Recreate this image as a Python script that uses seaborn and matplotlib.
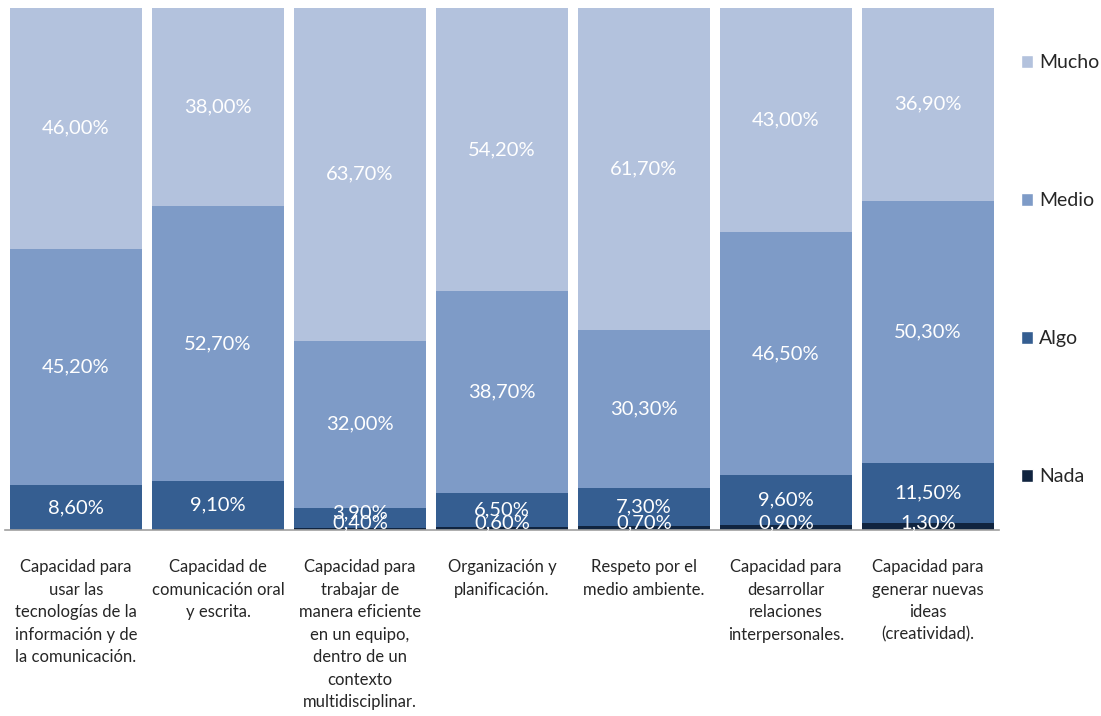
import numpy as np
import pandas as pd
import matplotlib
matplotlib.use("Agg")
import matplotlib.pyplot as plt
import seaborn as sns
from matplotlib.patches import Patch

categorias = [
    "Capacidad para\nusar las\ntecnologías de la\ninformación y de\nla comunicación.",
    "Capacidad de\ncomunicación oral\ny escrita.",
    "Capacidad para\ntrabajar de\nmanera eficiente\nen un equipo,\ndentro de un\ncontexto\nmultidisciplinar.",
    "Organización y\nplanificación.",
    "Respeto por el\nmedio ambiente.",
    "Capacidad para\ndesarrollar\nrelaciones\ninterpersonales.",
    "Capacidad para\ngenerar nuevas\nideas\n(creatividad).",
]
nada = [0.0, 0.2, 0.4, 0.6, 0.7, 0.9, 1.3]
algo = [8.6, 9.1, 3.9, 6.5, 7.3, 9.6, 11.5]
medio = [45.2, 52.7, 32.0, 38.7, 30.3, 46.5, 50.3]
mucho = [46.0, 38.0, 63.7, 54.2, 61.7, 43.0, 36.9]

niveles = ["Nada", "Algo", "Medio", "Mucho"]
colores = {"Nada": "#10243F", "Algo": "#355E91", "Medio": "#7E9BC7", "Mucho": "#B3C2DD"}

df = pd.DataFrame({"cat": categorias, "Nada": nada, "Algo": algo,
                   "Medio": medio, "Mucho": mucho})
total = df[niveles].sum(axis=1)
# 100% stacked: normalise to total
for n in niveles:
    df[n + "_p"] = df[n] / total * 100
acum = df[[n + "_p" for n in niveles]].cumsum(axis=1)
acum.columns = niveles

sns.set_style("white")
plt.rcParams["font.family"] = ["Lato", "DejaVu Sans"]

fig = plt.figure(figsize=(11.01, 7.16), dpi=100)
ax = fig.add_axes([5 / 1101, 1 - 530 / 716, 994 / 1101, 522 / 716])

# draw from the top level down so the shorter bars sit in front
for n in reversed(niveles):
    sns.barplot(x=df["cat"], y=acum[n], color=colores[n], width=0.93,
                saturation=1, ax=ax, edgecolor="none", linewidth=0)

for i in range(len(df)):
    base = 0
    for n in niveles:
        v = df.loc[i, n + "_p"]
        if df.loc[i, n] >= 0.3:
            yc = base + v / 2
            if n == "Nada":
                yc = max(yc, 1.4)
            elif n == "Algo" and df.loc[i, n] < 5:
                yc = base + v / 2 + 1.0
            ax.text(i, yc, f"{df.loc[i, n]:.2f}%".replace(".", ","),
                    ha="center", va="center", color="white", fontsize=14.5)
        base += v

ax.set_ylim(0, 100)
ax.set_xlim(-0.5, 6.5)
ax.set_xlabel("")
ax.set_ylabel("")
ax.set_yticks([])
ax.tick_params(axis="x", length=0, pad=21, labelsize=12)
for lbl in ax.get_xticklabels():
    lbl.set_linespacing(1.5)
    lbl.set_va("top")
sns.despine(ax=ax, left=True)
ax.spines["bottom"].set_color("#A0A0A0")
ax.spines["bottom"].set_linewidth(1.2)

handles = [Patch(facecolor=colores[n], label=n) for n in reversed(niveles)]
fig.legend(handles=handles, loc="upper left", bbox_to_anchor=(1003 / 1101, 1 - 37 / 716),
           frameon=False, fontsize=14, labelspacing=6.22, handlelength=0.65,
           handleheight=0.65, handletextpad=0.3)

fig.savefig("out.png", dpi=100)
